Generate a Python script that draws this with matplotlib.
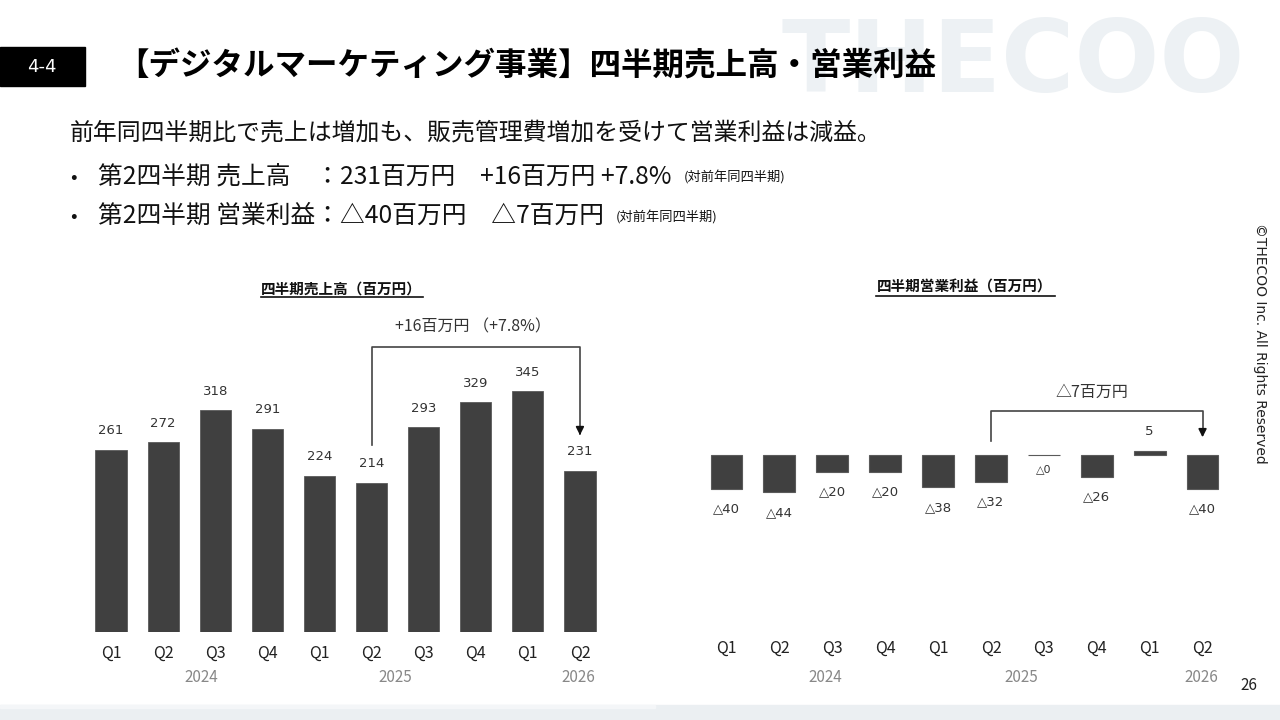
import matplotlib
matplotlib.use("Agg")
import matplotlib.pyplot as plt
import matplotlib.transforms as mtransforms
from matplotlib.patches import Rectangle

plt.rcParams['font.family'] = ['Noto Sans CJK JP', 'DejaVu Sans']

# ---------------- data ----------------
quarters = ["Q1", "Q2", "Q3", "Q4", "Q1", "Q2", "Q3", "Q4", "Q1", "Q2"]
years = ["2024", "2025", "2026"]
sales = [261, 272, 318, 291, 224, 214, 293, 329, 345, 231]
profit = [-40, -44, -20, -20, -38, -32, -0.4, -26, 5, -40]

title = "【デジタルマーケティング事業】四半期売上高・営業利益"
subtitle = "前年同四半期比で売上は増加も、販売管理費増加を受けて営業利益は減益。"
bullet1 = "第2四半期 売上高　：231百万円　+16百万円 +7.8%"
bullet2 = "第2四半期 営業利益：△40百万円　△7百万円"
note = "(対前年同四半期)"
sales_title = "四半期売上高（百万円）"
profit_title = "四半期営業利益（百万円）"
sales_diff = "+16百万円 （+7.8%）"
profit_diff = "△7百万円"
watermark = "THECOO"

W, H = 1280, 720
fig = plt.figure(figsize=(12.8, 7.2), dpi=100)
fig.patch.set_facecolor("white")


def fx(px):
    return px / W


def fy(py):
    return 1 - py / H


BAR = "#404040"
TXT = "#333333"
num_font = ['DejaVu Sans', 'Noto Sans CJK JP']


def fmt(v):
    r = round(v)
    if v < 0:
        return "△" + str(abs(int(r)))
    return str(int(r))


# watermark
fig.text(fx(782), fy(92), watermark, fontsize=72, color="#edf1f4",
         family=['DejaVu Sans'], fontweight='bold',
         ha='left', va='baseline', zorder=0)

# header box
fig.patches.append(Rectangle((0, fy(86)), fx(85), (86 - 47) / H,
                             transform=fig.transFigure, color="black", zorder=2))
fig.text(fx(42), fy(67), "4-4", color="white", fontsize=13, ha='center', va='center',
         family=['DejaVu Sans'])
fig.text(fx(117), fy(67), title, fontsize=22.7, fontweight='bold', ha='left', va='center',
         color="black")
fig.text(fx(70), fy(133), subtitle, fontsize=17.2, ha='left', va='center', color="#111111")

bullet_texts = []
for yy, txt in [(177, bullet1), (216, bullet2)]:
    fig.text(fx(70), fy(yy), "•", fontsize=14, ha='left', va='center', color="#111111")
    t = fig.text(fx(98), fy(yy), txt, fontsize=17.8, ha='left', va='center', color="#111111")
    bullet_texts.append((t, yy))

fig.canvas.draw()
renderer = fig.canvas.get_renderer()
for t, yy in bullet_texts:
    ext = t.get_window_extent(renderer)
    fig.text((ext.x1 + 12) / W, fy(yy + 1), note, fontsize=9.5, ha='left', va='center',
             color="#111111")

# copyright and page number
fig.text(fx(1260), fy(343), "©THECOO Inc. All Rights Reserved", rotation=270,
         fontsize=10, ha='center', va='center', family=['DejaVu Sans'], color="#222222")
fig.text(fx(1249), fy(686), "26", fontsize=11, ha='center', va='center', color="#222222")

# footer band
fig.patches.append(Rectangle((0, 0), 1, 15 / H, transform=fig.transFigure,
                             color="#ebeff2", zorder=1))
fig.patches.append(Rectangle((0, 12 / H), fx(655), 3 / H, transform=fig.transFigure,
                             color="#f4f6f8", zorder=1))

# ---------------- left chart: sales ----------------
l_left, l_right = 85, 606
l_base = 632
l_scale = 0.698  # px per unit
l_top_val = 480
axL = fig.add_axes([fx(l_left), fy(l_base), (l_right - l_left) / W, l_top_val * l_scale / H])
xs = list(range(len(sales)))
axL.bar(xs, sales, width=0.6, color=BAR, edgecolor="#5a5a5a", linewidth=0.6)
axL.set_xlim(-0.5, 9.5)
axL.set_ylim(0, l_top_val)
axL.axis('off')
for x, v in zip(xs, sales):
    axL.annotate(fmt(v), (x, v), xytext=(0, 19), textcoords='offset pixels',
                 ha='center', va='center', fontsize=9.5, family=num_font, color=TXT)
tL = mtransforms.blended_transform_factory(axL.transData, fig.transFigure)
for x, q in zip(xs, quarters):
    axL.text(x, fy(653), q, transform=tL, ha='center', va='center', fontsize=11.5, color="#222222")
for x, yl in zip([1.73, 5.45, 8.96], years):
    axL.text(x, fy(678), yl, transform=tL, ha='center', va='center', fontsize=11, color="#888888")
fig.text(fx(341), fy(289), sales_title, fontsize=10.5, fontweight='bold', ha='center',
         va='center', color="#111111")
fig.add_artist(plt.Line2D([fx(261), fx(423)], [fy(297), fy(297)], color="#111111", lw=1.2))

# bracket sales
i0, i1 = 5, 9
y_start, y_top, y_tip = 268, 408, 278
axL.plot([i0, i0, i1, i1], [y_start, y_top, y_top, y_tip + 8], color="#444444", lw=1.2,
         clip_on=False)
axL.annotate("", xy=(i1, y_tip), xytext=(i1, y_tip + 12),
             arrowprops=dict(arrowstyle='-|>', color="#111111", lw=1.2, mutation_scale=12),
             annotation_clip=False)
axL.text((i0 + i1) / 2 - 0.05, 437, sales_diff, ha='center', va='center', fontsize=11.5,
         color=TXT, clip_on=False)

# ---------------- right chart: profit ----------------
r_left, r_right = 700, 1229
r_zero = 455
r_scale = 0.85
r_min, r_max = -60, 40
axR = fig.add_axes([fx(r_left), fy(r_zero - r_min * r_scale), (r_right - r_left) / W,
                    (r_max - r_min) * r_scale / H])
axR.bar(xs, profit, width=0.6, color=BAR, edgecolor="#5a5a5a", linewidth=0.8)
axR.set_xlim(-0.5, 9.5)
axR.set_ylim(r_min, r_max)
axR.axis('off')
for x, v in zip(xs, profit):
    if v >= 0:
        off, fs = 19, 9.5
    elif v > -1:
        off, fs = -14, 8
    else:
        off, fs = -20, 9.5
    axR.annotate(fmt(v), (x, v), xytext=(0, off), textcoords='offset pixels',
                 ha='center', va='center', fontsize=fs, family=num_font, color=TXT)
tR = mtransforms.blended_transform_factory(axR.transData, fig.transFigure)
for x, q in zip(xs, quarters):
    axR.text(x, fy(648), q, transform=tR, ha='center', va='center', fontsize=11.5, color="#222222")
for x, yl in zip([1.87, 5.58, 8.98], years):
    axR.text(x, fy(677), yl, transform=tR, ha='center', va='center', fontsize=11, color="#888888")
fig.text(fx(965), fy(287), profit_title, fontsize=10.5, fontweight='bold', ha='center',
         va='center', color="#111111")
fig.add_artist(plt.Line2D([fx(876), fx(1055)], [fy(296), fy(296)], color="#111111", lw=1.2))

# bracket profit
y_start, y_top, y_tip = 16.5, 51.8, 17.6
axR.plot([i0, i0, i1, i1], [y_start, y_top, y_top, y_tip + 9], color="#444444", lw=1.2,
         clip_on=False)
axR.annotate("", xy=(i1, y_tip), xytext=(i1, y_tip + 14),
             arrowprops=dict(arrowstyle='-|>', color="#111111", lw=1.2, mutation_scale=12),
             annotation_clip=False)
axR.text(6.9, 74, profit_diff, ha='center', va='center', fontsize=11.5,
         color=TXT, clip_on=False)

fig.savefig("out.png", dpi=100)
